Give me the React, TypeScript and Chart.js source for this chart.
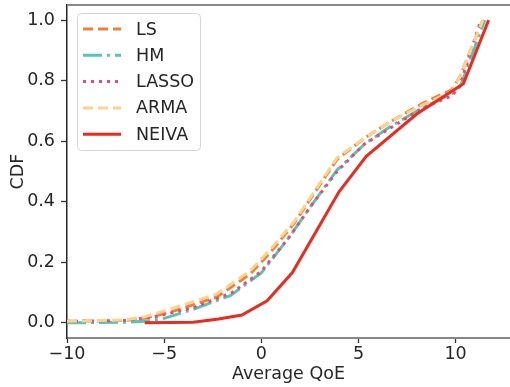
import React, { useEffect, useRef } from "react";
import { Chart, registerables } from "chart.js";

Chart.register(...registerables);

const xTicks = [-10, -5, 0, 5, 10];
const yTicks = [0, 0.2, 0.4, 0.6, 0.8, 1.0];

const seriesNames = ["LS", "HM", "LASSO", "ARMA", "NEIVA"];

const lsX = [-10, -7, -6, -4.7, -2.3, -0.6, 0.5, 1.7, 3.0, 3.9, 5.3, 6.8, 8.3, 9.8, 10.2, 11.4];
const lsY = [0.005, 0.008, 0.015, 0.035, 0.085, 0.16, 0.235, 0.33, 0.455, 0.54, 0.61, 0.67, 0.725, 0.77, 0.81, 1.0];

const hmX = [-10, -7, -6, -5, -3.5, -1.6, 0, 1.4, 2.6, 3.9, 5.4, 6.8, 8.3, 9.9, 10.3, 11.5];
const hmY = [0.0, 0.002, 0.005, 0.015, 0.045, 0.09, 0.165, 0.28, 0.39, 0.505, 0.595, 0.655, 0.71, 0.76, 0.79, 1.0];

const lassoX = [-10, -7, -5.5, -3.5, -1.5, 0, 1.4, 2.6, 3.9, 5.3, 6.8, 8.3, 9.8, 10.2, 11.3];
const lassoY = [0.005, 0.008, 0.02, 0.05, 0.1, 0.17, 0.28, 0.39, 0.5, 0.59, 0.65, 0.71, 0.75, 0.78, 1.0];

const armaX = [-10, -7, -6, -4.7, -2.3, -0.6, 0.5, 1.7, 3.0, 3.9, 5.3, 6.8, 8.3, 9.8, 10.2, 11.4];
const armaY = [0.005, 0.01, 0.02, 0.045, 0.095, 0.17, 0.245, 0.335, 0.46, 0.545, 0.61, 0.67, 0.72, 0.765, 0.81, 1.0];

const neivaX = [-6.0, -3.5, -2.2, -1.0, 0.3, 1.6, 4.0, 5.4, 8.0, 10.4, 11.7];
const neivaY = [0.0, 0.002, 0.013, 0.026, 0.073, 0.166, 0.433, 0.55, 0.69, 0.79, 1.0];

const colors = ["#F47F2E", "#4EC9B8", "#F0457E", "#FFD38C", "#EE2A1F"];
const dashes = [[10, 5], [19, 5, 3, 5], [3, 5], [10, 5], []];

const FONT = "'DejaVu Sans', sans-serif";
const FS = 17.5;

const pts = (xs: number[], ys: number[]) => xs.map((x, i) => ({ x, y: ys[i] }));

const legendPlugin = {
  id: "customLegend",
  afterDraw(chart: any) {
    const ctx = chart.ctx as CanvasRenderingContext2D;
    const area = chart.chartArea;
    ctx.save();
    // top spine
    ctx.strokeStyle = "#888888";
    ctx.lineWidth = 2;
    ctx.beginPath();
    ctx.moveTo(area.left, area.top);
    ctx.lineTo(area.right, area.top);
    ctx.stroke();

    // legend box
    const bx = 77.5, by = 13.5, bw = 123, bh = 137, r = 4;
    ctx.fillStyle = "rgba(255,255,255,0.85)";
    ctx.strokeStyle = "#d6d6d6";
    ctx.lineWidth = 1;
    ctx.beginPath();
    ctx.moveTo(bx + r, by);
    ctx.lineTo(bx + bw - r, by);
    ctx.quadraticCurveTo(bx + bw, by, bx + bw, by + r);
    ctx.lineTo(bx + bw, by + bh - r);
    ctx.quadraticCurveTo(bx + bw, by + bh, bx + bw - r, by + bh);
    ctx.lineTo(bx + r, by + bh);
    ctx.quadraticCurveTo(bx, by + bh, bx, by + bh - r);
    ctx.lineTo(bx, by + r);
    ctx.quadraticCurveTo(bx, by, bx + r, by);
    ctx.closePath();
    ctx.fill();
    ctx.stroke();

    const ds = chart.data.datasets;
    ds.forEach((d: any, i: number) => {
      const cy = 29 + i * 26.3;
      ctx.strokeStyle = d.borderColor;
      ctx.lineWidth = d.borderWidth;
      ctx.setLineDash(d.borderDash || []);
      ctx.lineCap = "butt";
      ctx.beginPath();
      ctx.moveTo(83, cy);
      ctx.lineTo(121, cy);
      ctx.stroke();
      ctx.setLineDash([]);
      ctx.fillStyle = "#262626";
      ctx.font = `${FS}px ${FONT}`;
      ctx.textBaseline = "middle";
      ctx.textAlign = "left";
      ctx.fillText(d.label, 136, cy + 1);
    });
    ctx.restore();
  },
};

export default function App() {
  const ref = useRef<HTMLCanvasElement | null>(null);

  useEffect(() => {
    document.body.style.margin = "0";
    const canvas = ref.current;
    if (!canvas) return;
    const seriesData = [
      pts(lsX, lsY),
      pts(hmX, hmY),
      pts(lassoX, lassoY),
      pts(armaX, armaY),
      pts(neivaX, neivaY),
    ];
    const chart = new Chart(canvas, {
      type: "line",
      data: {
        datasets: seriesNames.map((name, i) => ({
          label: name,
          data: seriesData[i],
          borderColor: colors[i],
          backgroundColor: colors[i],
          borderWidth: 3,
          borderDash: dashes[i],
          pointRadius: 0,
          tension: 0,
          fill: false,
          order: 4 - i,
        })),
      },
      options: {
        responsive: false,
        animation: false,
        events: [],
        layout: { padding: { top: 5, right: 0, left: 0, bottom: 0 } },
        plugins: {
          legend: { display: false },
          tooltip: { enabled: false },
        },
        scales: {
          x: {
            type: "linear",
            min: -10,
            max: 12.8,
            afterBuildTicks: (s: any) => {
              s.ticks = xTicks.map((v) => ({ value: v }));
            },
            afterFit: (s: any) => {
              s.height = 49;
              s.paddingLeft = 0;
              s.paddingRight = 0;
            },
            ticks: {
              color: "#262626",
              font: { family: FONT, size: FS },
              padding: 1,
              maxRotation: 0,
              callback: (v: any) => (v < 0 ? "\u2212" + Math.abs(v) : String(v)),
            },
            grid: {
              drawOnChartArea: false,
              drawTicks: true,
              tickLength: 5,
              tickColor: "#333333",
              tickWidth: 1.3,
            },
            border: { display: true, color: "#888888", width: 2 },
            title: {
              display: true,
              text: "Average QoE",
              color: "#262626",
              font: { family: FONT, size: FS },
              padding: { top: 0, bottom: 2 },
            },
          },
          y: {
            type: "linear",
            min: -0.05,
            max: 1.05,
            afterBuildTicks: (s: any) => {
              s.ticks = yTicks.map((v) => ({ value: v }));
            },
            afterFit: (s: any) => {
              s.width = 67;
              s.paddingTop = 0;
              s.paddingBottom = 0;
            },
            ticks: {
              color: "#262626",
              font: { family: FONT, size: FS },
              padding: 6,
              callback: (v: any) => Number(v).toFixed(1),
            },
            grid: {
              drawOnChartArea: false,
              drawTicks: true,
              tickLength: 6,
              tickColor: "#333333",
              tickWidth: 1.3,
            },
            border: { display: true, color: "#262626", width: 1.5 },
            title: {
              display: true,
              text: "CDF",
              color: "#262626",
              font: { family: FONT, size: FS },
              padding: { top: 7.5, bottom: 0 },
            },
          },
        },
      },
      plugins: [legendPlugin],
    });
    return () => chart.destroy();
  }, []);

  return (
    <div style={{ width: 510, height: 387 }}>
      <canvas ref={ref} width={510} height={387} style={{ display: "block" }} />
    </div>
  );
}
